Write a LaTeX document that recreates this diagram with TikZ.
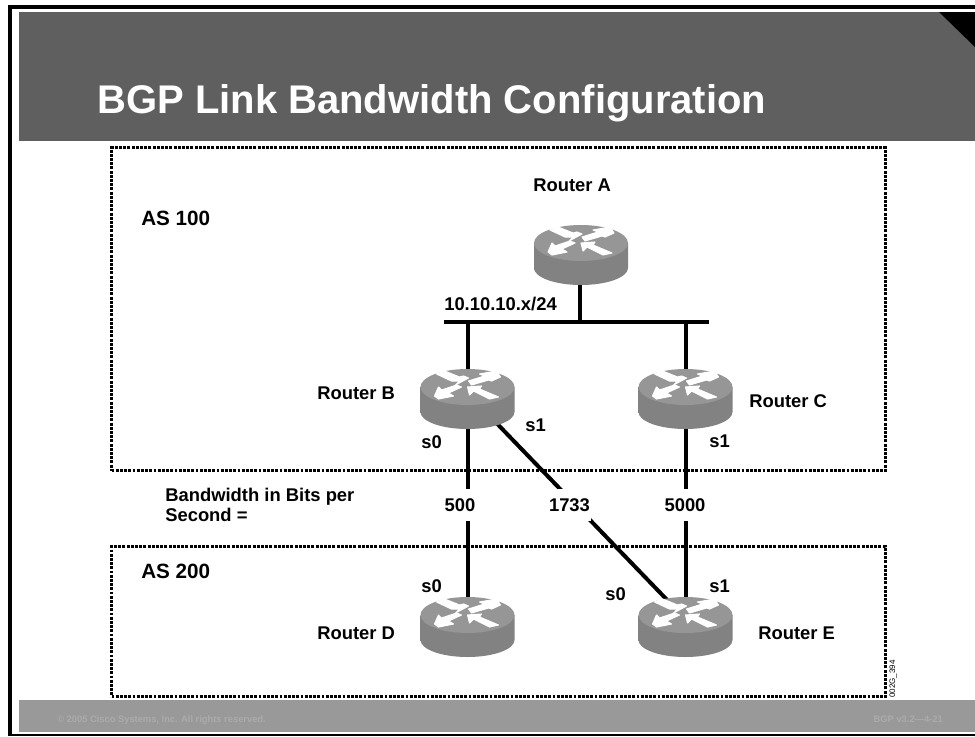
\documentclass[tikz,border=0pt]{standalone}
\usepackage{fontspec}
\setmainfont{Liberation Sans}
\definecolor{titlegray}{HTML}{5F5F5F}
\definecolor{footgray}{HTML}{999999}
\definecolor{foottext}{HTML}{ABABAB}
\definecolor{rtop}{HTML}{969696}
\definecolor{rside}{HTML}{828282}
\definecolor{rmid}{HTML}{666666}
\begin{document}
\begin{tikzpicture}[x=0.75pt,y=-0.75pt,
  lbl/.style={font=\bfseries\fontsize{13.8}{15}\selectfont,inner sep=0pt,text=black},
  aslbl/.style={font=\bfseries\fontsize{15.5}{18}\selectfont,inner sep=0pt,text=black},
  foot/.style={font=\bfseries\fontsize{7}{8}\selectfont,inner sep=0pt,text=foottext},
  link/.style={draw=black,line width=3pt},
  asbox/.style={draw=black,line width=2.25pt,dash pattern=on 2.2pt off 0.95pt,rectangle,inner sep=0pt,anchor=north west,minimum width=580.5pt},
  arrowshape/.style={fill=white,draw=white,line width=0.8pt,line join=round},
  pics/router/.style={code={
    \shade[left color=rside,middle color=rmid,right color=rside] (-47,0) -- (-47,25) arc[start angle=180,end angle=0,x radius=47,y radius=17] -- (47,0) -- cycle;
    \fill[rtop] (0,0) ellipse[x radius=47,y radius=18];
    \path[arrowshape] (-31,-13) -- (-23,-16) -- (-8,-10) -- (-4,-11) -- (1,-9) -- (-12,-2) -- (-8,-6) -- (-16,-6) -- cycle;
    \path[arrowshape] (33,-10) -- (29,-16) -- (12,-13) -- (17,-11) -- (1,-6) -- (4,-2) -- (21,-7) -- (24,-6) -- cycle;
    \path[arrowshape] (-33,9) -- (-29,0) -- (-26,3) -- (-11,-2) -- (-6,0) -- (-19,6) -- (-14,9) -- (-29,12) -- cycle;
    \path[arrowshape] (0,0) -- (14,-1) -- (12,2) -- (31,10) -- (22,12) -- (6,4) -- (2,8) -- cycle;
  }}]
\useasboundingbox (0,0) rectangle (975,736);
\fill[white] (0,0) rectangle (975,736);
% frame
\fill[black] (8,5) rectangle (975,9);
\fill[black] (8,5) rectangle (12,736);
\fill[black] (8,734) rectangle (975,736);
% banner
\fill[titlegray] (19,12) rectangle (975,141);
\fill[black] (939,12) -- (975,12) -- (975,47) -- cycle;
\node[anchor=base west,inner sep=0pt,text=white,font=\bfseries\fontsize{30}{36}\selectfont] (title) at (97,113) {BGP Link Bandwidth Configuration};
% footer
\fill[footgray] (19,700) rectangle (975,732);
\node[foot,anchor=base west] (copy) at (57,722) {© 2005 Cisco Systems, Inc. All rights reserved.};
\node[foot,anchor=base east] (ver) at (943,722) {BGP v3.2—4-21};
% AS boxes
\node[asbox,minimum height=242.25pt] (as100) at (110,146) {};
\node[asbox,minimum height=112.5pt] (as200) at (110,545) {};
% anchor points
\coordinate (ra) at (581,243);
\coordinate (rb) at (467.5,387);
\coordinate (rc) at (685.5,387);
\coordinate (rd) at (467.5,615);
\coordinate (re) at (685.5,615);
\coordinate (bport) at (467.5,393);
\coordinate (eport) at (685.5,619);
\coordinate (busl) at (444,322);
\coordinate (busr) at (709,322);
\coordinate (busa) at (580,322);
\coordinate (abot) at (580,243);
% connectors
\draw[link] (busl) -- (busr);
\draw[link] (abot) -- (busa);
\draw[link] (rb |- busl) -- (rb);
\draw[link] (rc |- busl) -- (rc);
\draw[link] (rb) -- (rd);
\draw[link] (bport) -- (eport);
\draw[link] (rc) -- (re);
% routers
\foreach \r in {ra,rb,rc,rd,re} { \pic at (\r) {router}; }
% labels on links
\node[lbl,fill=white,inner xsep=1pt,inner ysep=7pt] (l500) at (460,505) {500};
\node[lbl,fill=white,inner xsep=1pt,inner ysep=7pt] (l1733) at (569.5,505) {1733};
\node[lbl,fill=white,inner xsep=1pt,inner ysep=7pt] (l5000) at (685,505) {5000};
% labels
\node[lbl,anchor=west] (tA) at (533,185) {Router A};
\node[lbl,anchor=west] (tB) at (317,393) {Router B};
\node[lbl,anchor=west] (tC) at (749,401) {Router C};
\node[lbl,anchor=west] (tD) at (317,633) {Router D};
\node[lbl,anchor=west] (tE) at (758,633) {Router E};
\node[aslbl,anchor=west] (as1) at (141,218) {AS 100};
\node[aslbl,anchor=west] (as2) at (141,571) {AS 200};
\node[lbl,anchor=west] (net) at (444,304) {10.10.10.x/24};
\node[lbl,anchor=west] (s0b) at (421,442) {s0};
\node[lbl,anchor=west] (s1b) at (525,425) {s1};
\node[lbl,anchor=west] (s1c) at (709,441) {s1};
\node[lbl,anchor=west] (s0d) at (421,586) {s0};
\node[lbl,anchor=west] (s0e) at (605,594) {s0};
\node[lbl,anchor=west] (s1e) at (709,586) {s1};
\node[lbl,anchor=north west,align=left] (bw) at (165,488) {Bandwidth in Bits per\\Second =};
\node[font=\fontsize{6}{7}\selectfont,rotate=90,inner sep=0pt,anchor=west] (code) at (893,698) {002G\_394};
\end{tikzpicture}
\end{document}
